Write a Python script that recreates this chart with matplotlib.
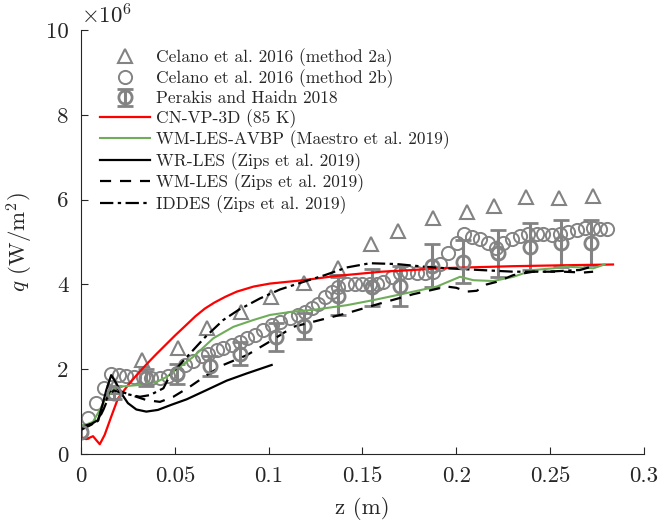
import numpy as np
import matplotlib
matplotlib.use("Agg")
import matplotlib.pyplot as plt
from matplotlib.ticker import FuncFormatter

plt.rcParams['font.family'] = 'cmr10'
plt.rcParams['mathtext.fontset'] = 'cm'
plt.rcParams['axes.formatter.use_mathtext'] = True

# heat flux q in units of 1e6 W/m^2, z in m
# Celano et al. 2016 (method 2a)
z_2a = [0.0175, 0.0325, 0.0515, 0.067, 0.085, 0.101, 0.119, 0.137, 0.1545, 0.169,
        0.1877, 0.2055, 0.2202, 0.237, 0.2549, 0.2727]
q_2a = [1.58, 2.22, 2.50, 2.98, 3.35, 3.71, 4.03, 4.38, 4.95, 5.27,
        5.56, 5.70, 5.85, 6.07, 6.05, 6.09]

# Celano et al. 2016 (method 2b)
z_2b = [0.000, 0.004, 0.008, 0.012, 0.016, 0.020, 0.024, 0.0285, 0.033, 0.0375,
        0.042, 0.0465, 0.051, 0.0554, 0.0598, 0.0643, 0.0678, 0.0723, 0.0758, 0.0803,
        0.0847, 0.0883, 0.0927, 0.0971, 0.1016, 0.1061, 0.1114, 0.1158, 0.1194, 0.1229,
        0.1265, 0.1300, 0.1336, 0.1371, 0.1416, 0.1460, 0.1496, 0.1540, 0.1576, 0.1610,
        0.1656, 0.1700, 0.1744, 0.1789, 0.1833, 0.1877, 0.1913, 0.1957, 0.2002, 0.2041,
        0.2085, 0.2126, 0.2171, 0.2210, 0.2250, 0.2295, 0.2340, 0.2384, 0.2428, 0.2464,
        0.2508, 0.2553, 0.2597, 0.2642, 0.2686, 0.2730, 0.2766, 0.2801]
q_2b = [0.55, 0.85, 1.20, 1.55, 1.88, 1.86, 1.84, 1.82, 1.81, 1.80,
        1.80, 1.84, 1.90, 2.10, 2.20, 2.30, 2.37, 2.45, 2.49, 2.57,
        2.65, 2.73, 2.81, 2.92, 3.04, 3.12, 3.20, 3.28, 3.36, 3.44,
        3.55, 3.71, 3.83, 3.95, 4.00, 4.00, 4.00, 4.00, 4.00, 4.06,
        4.18, 4.26, 4.30, 4.26, 4.28, 4.30, 4.47, 4.73, 4.97, 5.20,
        5.13, 5.07, 4.97, 4.87, 4.97, 5.07, 5.15, 5.20, 5.20, 5.19,
        5.16, 5.18, 5.23, 5.28, 5.32, 5.34, 5.31, 5.31]

# Perakis and Haidn 2018
z_ph = [0.0, 0.0175, 0.0345, 0.051, 0.0688, 0.0847, 0.104, 0.119, 0.137, 0.155,
        0.170, 0.187, 0.2037, 0.222, 0.2393, 0.2558, 0.272]
q_ph = [0.53, 1.45, 1.80, 1.88, 2.08, 2.37, 2.75, 3.02, 3.72, 3.93,
        3.96, 4.44, 4.54, 4.73, 4.89, 4.97, 4.98]
e_ph = [0.16, 0.15, 0.20, 0.24, 0.24, 0.28, 0.33, 0.31, 0.45, 0.44,
        0.48, 0.51, 0.51, 0.55, 0.55, 0.55, 0.53]

# CN-VP-3D (85 K)
z_cn = [0.0, 0.0028, 0.0064, 0.0100, 0.0126, 0.0161, 0.0197, 0.025, 0.030, 0.035,
        0.040, 0.045, 0.050, 0.056, 0.0610, 0.0660, 0.0710, 0.0770, 0.083, 0.0920,
        0.1007, 0.1185, 0.136, 0.160, 0.177, 0.1896, 0.2055, 0.230, 0.255, 0.2835]
q_cn = [0.39, 0.35, 0.42, 0.23, 0.45, 0.88, 1.31, 1.62, 1.88, 2.12,
        2.35, 2.57, 2.79, 3.04, 3.25, 3.43, 3.57, 3.71, 3.83, 3.95,
        4.02, 4.10, 4.20, 4.30, 4.34, 4.38, 4.40, 4.43, 4.45, 4.47]

# WM-LES-AVBP (Maestro et al. 2019)
z_avbp = [0.0, 0.002, 0.0064, 0.010, 0.0126, 0.0144, 0.0165, 0.0208, 0.0314, 0.0403,
          0.0457, 0.0528, 0.0598, 0.0705, 0.0812, 0.0918, 0.1007, 0.1131, 0.1238, 0.1416,
          0.1558, 0.1771, 0.1896, 0.2020, 0.2090, 0.2197, 0.2304, 0.2410, 0.2517, 0.2588,
          0.2730, 0.2790]
q_avbp = [0.70, 0.68, 0.76, 1.04, 1.27, 1.35, 1.50, 1.59, 1.63, 1.70,
          1.82, 2.06, 2.29, 2.73, 3.00, 3.16, 3.28, 3.36, 3.40, 3.51,
          3.63, 3.83, 3.95, 4.18, 4.10, 4.08, 4.18, 4.34, 4.38, 4.42,
          4.38, 4.47]

# WR-LES (Zips et al. 2019)
z_wr = [0.0, 0.0055, 0.0091, 0.0117, 0.0135, 0.0161, 0.0188, 0.0215, 0.025, 0.0295,
        0.0348, 0.041, 0.0481, 0.0563, 0.067, 0.0776, 0.0883, 0.1016]
q_wr = [0.64, 0.71, 0.80, 1.20, 1.51, 1.86, 1.67, 1.43, 1.20, 1.05,
        1.00, 1.04, 1.16, 1.29, 1.51, 1.73, 1.90, 2.10]

# WM-LES (Zips et al. 2019)
z_wm = [0.0, 0.005, 0.009, 0.012, 0.015, 0.0175, 0.0215, 0.0268, 0.035, 0.0421,
        0.0492, 0.0581, 0.067, 0.0758, 0.0883, 0.099, 0.106, 0.1131, 0.1238, 0.1416,
        0.1594, 0.1771, 0.1949, 0.2000, 0.2055, 0.2109, 0.2162, 0.2215, 0.2304, 0.2410,
        0.2570, 0.2677, 0.2729]
q_wm = [0.60, 0.70, 0.80, 1.10, 1.45, 1.60, 1.47, 1.39, 1.27, 1.23,
        1.35, 1.59, 1.86, 2.10, 2.33, 2.61, 2.80, 3.00, 3.12, 3.32,
        3.55, 3.77, 3.95, 3.92, 3.83, 3.85, 4.00, 4.06, 4.22, 4.30,
        4.30, 4.28, 4.30]

# IDDES (Zips et al. 2019)
z_dd = [0.0, 0.005, 0.009, 0.012, 0.0152, 0.0175, 0.0225, 0.0314, 0.0368, 0.0439,
        0.0474, 0.0581, 0.0660, 0.0758, 0.0840, 0.0954, 0.1060, 0.1185, 0.1300, 0.1416,
        0.1540, 0.1683, 0.1825, 0.1949, 0.2126, 0.2304, 0.2481, 0.2659, 0.2730]
q_dd = [0.57, 0.68, 0.78, 1.05, 1.40, 1.50, 1.43, 1.35, 1.39, 1.55,
        1.85, 2.37, 2.75, 3.16, 3.40, 3.67, 3.88, 4.06, 4.22, 4.40,
        4.50, 4.48, 4.42, 4.38, 4.34, 4.30, 4.30, 4.34, 4.43]

gray = '#838383'
axcol = '#262626'

fig = plt.figure(figsize=(6.59, 5.27), dpi=100)
ax = fig.add_axes([0.1229, 0.1385, 0.8543, 0.8045])

h_2a, = ax.plot(z_2a, q_2a, '^', color=gray, mfc='none', ms=10, mew=1.5)
h_2b, = ax.plot(z_2b, q_2b, 'o', color=gray, mfc='none', ms=9.5, mew=1.4)
h_ph = ax.errorbar(z_ph, q_ph, yerr=e_ph, fmt='o', color=gray, mfc='none', ms=9.5,
                   mew=2, elinewidth=2.2, capsize=6, capthick=2.2)
h_cn, = ax.plot(z_cn, q_cn, '-', color='#ff0000', lw=1.6)
h_avbp, = ax.plot(z_avbp, q_avbp, '-', color='#70ad5a', lw=1.5)
h_wr, = ax.plot(z_wr, q_wr, '-', color='k', lw=1.6)
h_wm, = ax.plot(z_wm, q_wm, '--', color='k', lw=1.6, dashes=(5, 4))
h_dd, = ax.plot(z_dd, q_dd, '-.', color='k', lw=1.6, dashes=(6, 2, 1.5, 2))

ax.set_xlim(0, 0.3)
ax.set_ylim(0, 10)
ax.set_xticks([0, 0.05, 0.1, 0.15, 0.2, 0.25, 0.3])
ax.set_yticks([0, 2, 4, 6, 8, 10])
ax.xaxis.set_major_formatter(FuncFormatter(lambda v, p: '%g' % v))
ax.yaxis.set_major_formatter(FuncFormatter(lambda v, p: '%g' % v))

for s in ['top', 'right']:
    ax.spines[s].set_visible(False)
for s in ['left', 'bottom']:
    ax.spines[s].set_color(axcol)
    ax.spines[s].set_linewidth(0.8)
ax.tick_params(direction='in', length=5, width=0.8, color=axcol,
               labelcolor=axcol, labelsize=16.5, pad=9)

ax.set_xlabel('z (m)', fontsize=16.5, color=axcol, labelpad=8)
ax.set_ylabel(r'$q$ (W/m$^2$)', fontsize=16.5, color=axcol, labelpad=8)
ax.text(0.0, 1.005, r'$\times10^{6}$', transform=ax.transAxes, fontsize=16.5,
        color=axcol, ha='left', va='bottom')

handles = [h_2a, h_2b, h_ph, h_cn, h_avbp, h_wr, h_wm, h_dd]
labels = ['Celano et al. 2016 (method 2a)',
          'Celano et al. 2016 (method 2b)',
          'Perakis and Haidn 2018',
          'CN-VP-3D (85 K)',
          'WM-LES-AVBP (Maestro et al. 2019)',
          'WR-LES (Zips et al. 2019)',
          'WM-LES (Zips et al. 2019)',
          'IDDES (Zips et al. 2019)']
leg = ax.legend(handles, labels, loc='upper left',
                bbox_to_anchor=(100 / 659, 1 - 48 / 527),
                bbox_transform=fig.transFigure, frameon=False, fontsize=12.5,
                handlelength=2.9, handletextpad=0.3, labelspacing=0.16,
                borderaxespad=0, borderpad=0)
for t in leg.get_texts():
    t.set_color(axcol)

fig.savefig('out.png', dpi=100)
